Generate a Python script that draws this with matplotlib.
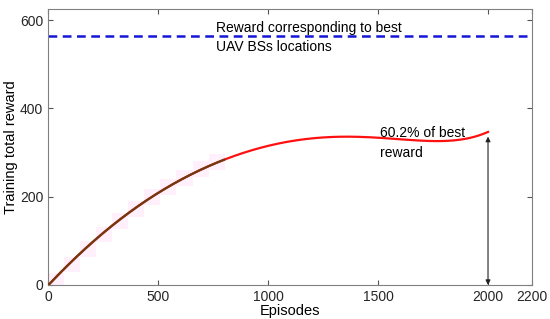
import numpy as np
import matplotlib
matplotlib.use('Agg')
import matplotlib.pyplot as plt

plt.rcParams['font.family'] = ['Liberation Sans', 'DejaVu Sans']

# training reward curve
episodes = [0, 100, 200, 300, 400, 500, 600, 700, 800, 900, 1000, 1100, 1200,
            1300, 1400, 1500, 1600, 1700, 1800, 1900, 2000]
reward = [0, 48, 95, 138, 177, 211, 237, 260, 281, 300, 317, 327, 333,
          336, 335, 332, 329, 327, 327, 332, 346]
best_reward = 563
early_end = 800   # dark part of the curve
xticks = [0, 500, 1000, 1500, 2000, 2200]
yticks = [0, 200, 400, 600]

fig = plt.figure(figsize=(5.5, 3.19), dpi=100)
ax = fig.add_axes([0.0873, 0.1066, 0.880, 0.8652])

xs = np.linspace(0, 2000, 401)
coef = np.polyfit(episodes, reward, 6)
ys = np.polyval(coef, xs)
ys[0] = 0

# very faint pink blocks behind the early curve
bx = np.arange(0, 750, 73)
by = np.polyval(coef, bx)
for x0, y0 in zip(bx, by):
    ax.fill_between([x0, x0 + 73], y0 - 8, y0 + 28,
                    color='#fff0fb', lw=0, zorder=1)

ax.plot(xs, ys, color='#ff1010', lw=1.6, zorder=3)
m = xs <= early_end
ax.plot(xs[m], ys[m], color='#6e3a10', lw=1.6, zorder=4)

ax.axhline(best_reward, color='#1515d8', lw=1.8, ls=(0, (3.5, 2.2)), zorder=2)

ax.text(765, 560, 'Reward corresponding to best\nUAV BSs locations',
        fontsize=10, va='center', ha='left', linespacing=1.5, zorder=5)
ax.text(1510, 322, '60.2% of best\nreward', fontsize=10, va='center',
        ha='left', linespacing=1.55, zorder=5)

ax.annotate('', xy=(2000, 0), xytext=(2000, reward[-1] - 10),
            arrowprops=dict(arrowstyle='<|-|>', color='#222222', lw=0.8,
                            mutation_scale=7, shrinkA=0, shrinkB=0))

ax.set_xlim(0, 2200)
ax.set_ylim(0, 625)
ax.set_xticks(xticks)
ax.set_yticks(yticks)
ax.tick_params(direction='in', top=True, right=True, length=3.5,
               color='#555555', labelcolor='#262626', labelsize=10)
for s in ax.spines.values():
    s.set_color('#808080')
    s.set_linewidth(0.8)
ax.set_xlabel('Episodes', fontsize=10.5, labelpad=0)
ax.set_ylabel('Training total reward', fontsize=10.5, labelpad=1)

fig.savefig('out.png', dpi=100)
